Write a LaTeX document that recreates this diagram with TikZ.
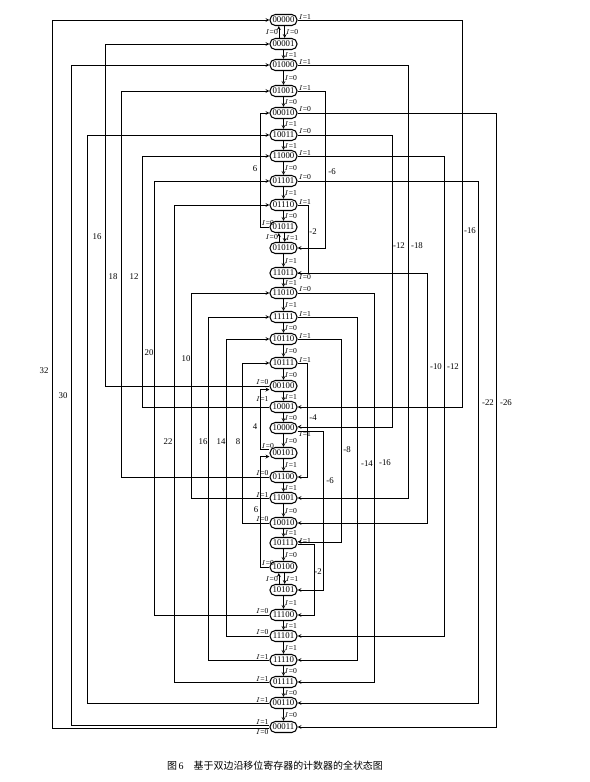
\documentclass[tikz,border=0pt]{standalone}
\usepackage{fontspec}
\setmainfont{Liberation Serif}
\newfontfamily\cjk{Noto Sans CJK SC}
\usetikzlibrary{positioning}

\begin{document}
\begin{tikzpicture}[x=0.03cm, y=-0.03cm, >=stealth, line width=0.5pt,
  st/.style={draw, line width=0.9pt, rounded corners=4.5pt, minimum width=0.81cm,
    minimum height=0.33cm, inner sep=0pt, font=\fontsize{7.5}{8}\selectfont},
  lab/.style={inner sep=0.6pt, font=\fontsize{6.5}{7}\selectfont},
  num/.style={inner sep=0pt, font=\fontsize{7.5}{8}\selectfont}]
\useasboundingbox (0,0) rectangle (590,782);
% states
\foreach \i/\s/\y in {0/00000/20,1/00001/44,2/01000/65,3/01001/91,4/00010/113,
  5/10011/135,6/11000/156,7/01101/181,8/01110/205,9/01011/227,10/01010/248,
  11/11011/273,12/11010/293,13/11111/317,14/10110/339,15/10111/363,16/00100/386,
  17/10001/407,18/10000/428,19/00101/453,20/01100/477,21/11001/498,22/10010/523,
  23/10111/543,24/10100/567,25/10101/590,26/11100/615,27/11101/636,28/11110/660,
  29/01111/682,30/00110/703,31/00011/727}
  \node[st] (n\i) at (283.5,\y) {\s};
% chain
\foreach \a/\b/\v in {1/2/1,2/3/0,3/4/0,4/5/1,5/6/1,6/7/0,7/8/1,8/9/0,10/11/1,
  11/12/1,12/13/1,13/14/0,14/15/0,15/16/0,16/17/1,17/18/0,18/19/0,19/20/1,20/21/1,
  21/22/0,22/23/1,23/24/0,25/26/1,26/27/1,27/28/1,28/29/0,29/30/0,30/31/0}
  \draw[->](n\a)--node[lab,right]{$I$=\v}(n\b);
\foreach \a/\b/\v in {0/1/0,9/10/1,24/25/1}{
  \draw[->]([xshift=1pt]n\a.south)--node[lab,right]{$I$=\v}([xshift=1pt]n\b.north);
  \draw[->]([xshift=-4pt]n\b.north)--node[lab,left]{$I$=0}([xshift=-4pt]n\a.south);
}
% right side
\draw[->](n0.east)node[lab,anchor=south west]{$I$=1}--++(165,0)|-(n17.east);
\draw[->](n2.east)node[lab,anchor=south west]{$I$=1}--++(111,0)|-(n21.east);
\draw[->](n3.east)node[lab,anchor=south west]{$I$=1}--++(28,0)|-(n10.east);
\draw[->](n4.east)node[lab,anchor=south west]{$I$=0}--++(199,0)|-(n31.east);
\draw[->](n5.east)node[lab,anchor=south west]{$I$=0}--++(95,0)|-([yshift=1pt]n18.east);
\draw[->](n6.east)node[lab,anchor=south west]{$I$=1}--++(147,0)|-(n27.east);
\draw[->](n7.east)node[lab,anchor=south west]{$I$=0}--++(181,0)|-(n30.east);
\draw[->](n8.east)node[lab,anchor=south west]{$I$=1}--++(11,0)|-(n11.east);
\draw[->](n11.east)node[lab,anchor=north west]{$I$=0}--++(130,0)|-(n22.east);
\draw[->](n12.east)node[lab,anchor=south west]{$I$=0}--++(77,0)|-(n29.east);
\draw[->](n13.east)node[lab,anchor=south west]{$I$=1}--++(60,0)|-(n28.east);
\draw[->](n14.east)node[lab,anchor=south west]{$I$=1}--++(44,0)|-([yshift=1pt]n23.east);
\draw[->](n15.east)node[lab,anchor=south west]{$I$=1}--++(10,0)|-(n20.east);
\draw[->]([yshift=-2.5pt]n18.east)node[lab,anchor=north west]{$I$=1}--++(26,0)|-(n25.east);
\draw[->]([yshift=-1.5pt]n23.east)node[lab,anchor=south west]{$I$=1}--++(17,0)|-(n26.east);
% left side
\draw[->]([yshift=-1.5pt]n31.west)node[lab,anchor=north east]{$I$=0}--++(-217,0)|-(n0.west);
\draw[->]([yshift=1.5pt]n31.west)node[lab,anchor=south east]{$I$=1}--++(-198,0)|-(n2.west);
\draw[->](n30.west)node[lab,anchor=south east]{$I$=1}--++(-182,0)|-(n5.west);
\draw[->](n16.west)node[lab,anchor=south east]{$I$=0}--++(-164,0)|-(n1.west);
\draw[->](n20.west)node[lab,anchor=south east]{$I$=0}--++(-148,0)|-(n3.west);
\draw[->](n17.west)node[lab,anchor=south east,yshift=4pt]{$I$=1}--++(-127,0)|-(n6.west);
\draw[->](n26.west)node[lab,anchor=south east]{$I$=0}--++(-115,0)|-(n7.west);
\draw[->](n29.west)node[lab,anchor=south east]{$I$=1}--++(-95,0)|-(n8.west);
\draw[->](n21.west)node[lab,anchor=south east]{$I$=1}--++(-78,0)|-(n12.west);
\draw[->](n28.west)node[lab,anchor=south east]{$I$=1}--++(-61,0)|-(n13.west);
\draw[->](n27.west)node[lab,anchor=south east]{$I$=0}--++(-43,0)|-(n14.west);
\draw[->](n22.west)node[lab,anchor=south east]{$I$=0}--++(-27,0)|-(n15.west);
\draw[->](n9.west)--++(-9,0)node[lab,anchor=south west]{$I$=0}|-(n4.west);
\draw[->]([yshift=3pt]n19.west)--++(-9,0)node[lab,anchor=south west]{$I$=0}|-([yshift=-3pt]n16.west);
\draw[->](n24.west)--++(-9,0)node[lab,anchor=south west]{$I$=0}|-([yshift=-3pt]n19.west);
% cycle lengths
\node[num](k32) at (44,371){32};
\node[num](k30) at (63,396){30};
\node[num](k16a) at (97,237){16};
\node[num](k18) at (113,277){18};
\node[num](k12) at (134,277){12};
\node[num](k20) at (149,353){20};
\node[num](k10) at (186,359){10};
\node[num](k22) at (168,442){22};
\node[num](k16b) at (203,442){16};
\node[num](k14) at (221,442){14};
\node[num](k8) at (238,442){8};
\node[num](k6a) at (255,169){6};
\node[num](k4) at (255,427){4};
\node[num](k6b) at (256,510){6};
\node[num](m16a) at (470,231){-16};
\node[num](m18) at (417,246){-18};
\node[num](m12a) at (399,246){-12};
\node[num](m6a) at (332,172){-6};
\node[num](m2a) at (313,232){-2};
\node[num](m10) at (436,367){-10};
\node[num](m12b) at (453,367){-12};
\node[num](m22) at (488,403){-22};
\node[num](m26) at (506,403){-26};
\node[num](m4) at (313,418){-4};
\node[num](m8) at (347,450){-8};
\node[num](m14) at (367,464){-14};
\node[num](m16b) at (385,463){-16};
\node[num](m6b) at (330,481){-6};
\node[num](m2b) at (318,572){-2};
\node[font=\fontsize{8.5}{10}\selectfont](cap) at (275,766)
  {{\cjk 图}\,6\quad{\cjk 基于双边沿移位寄存器的计数器的全状态图}};
\end{tikzpicture}
\end{document}
